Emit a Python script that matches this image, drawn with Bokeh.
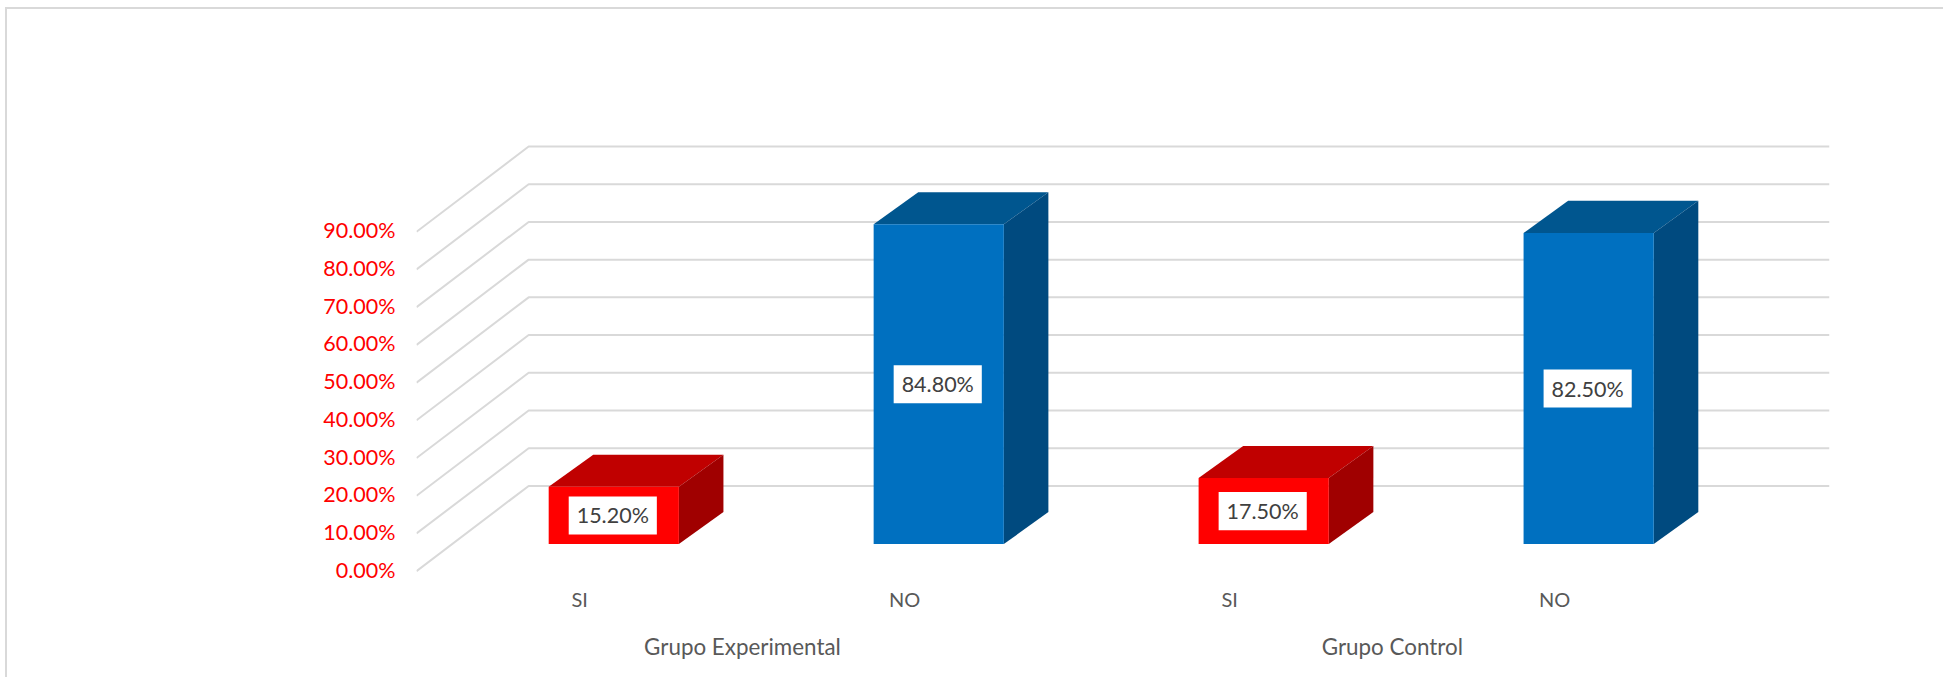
from bokeh.plotting import figure
from bokeh.models import FixedTicker, NumeralTickFormatter, LinearAxis, Range1d
from bokeh.core.properties import value
from bokeh.embed import file_html
from bokeh.resources import INLINE

# ---- data ----
categories = ["SI", "NO", "SI", "NO"]
groups = ["Grupo Experimental", "Grupo Control"]
values = [0.152, 0.848, 0.175, 0.825]
bar_colors = ["#FF0000", "#0070C0", "#FF0000", "#0070C0"]
top_colors = ["#C00000", "#00568F", "#C00000", "#00568F"]
side_colors = ["#A00000", "#004A7F", "#A00000", "#004A7F"]
y_ticks = [0.0, 0.1, 0.2, 0.3, 0.4, 0.5, 0.6, 0.7, 0.8, 0.9]

# ---- layout (pixels of the page) ----
OFF_X, OFF_Y = 7, 9       # the canvas starts inside the top and left border
W, H = 1943 - OFF_X, 677 - OFF_Y
SLOT = 324.5
UNIT = 376.0
F_L, F_R, F_T, F_B = 416 - OFF_X, 1827 - OFF_X, 0, H
ZERO_Y = 569.0 - OFF_Y
BAR0_CX = 613.0 - OFF_X
X0 = -(BAR0_CX - F_L) / SLOT
X1 = X0 + (F_R - F_L) / SLOT
Y1 = (ZERO_Y - F_T) / UNIT
Y0 = -(F_B - ZERO_Y) / UNIT

GRID_DX = 112 / SLOT      # depth of the floor, x
GRID_DY = 85 / UNIT       # depth of the floor, y
BAR_HALF = 65 / SLOT
BAR_DX = 44.5 / SLOT
BAR_DY = 32 / UNIT
BASE = 27 / UNIT          # front of the bars over the front of the floor
LABEL_RAISE = 1.5 / UNIT  # axis labels sit a little above their grid lines

GRID_COLOR = "#D9D9D9"

p = figure(width=W, height=H, x_range=(X0, X1), y_range=(Y0, Y1),
           output_backend="svg", toolbar_location=None,
           min_border_left=F_L, min_border_right=W - F_R,
           min_border_top=F_T, min_border_bottom=H - F_B,
           outline_line_color=None, background_fill_color="white",
           x_axis_location=None, y_axis_location=None)
p.styles = {"margin-left": "5px", "margin-top": "7px",
            "border-left": f"2px solid {GRID_COLOR}",
            "border-top": f"2px solid {GRID_COLOR}",
            "box-sizing": "content-box"}
p.grid.visible = False

p.extra_y_ranges = {"labels": Range1d(Y0 - LABEL_RAISE, Y1 - LABEL_RAISE)}
ax = LinearAxis(y_range_name="labels")
ax.ticker = FixedTicker(ticks=y_ticks)
ax.formatter = NumeralTickFormatter(format="0.00%")
ax.axis_line_color = None
ax.major_tick_line_color = None
ax.minor_tick_line_color = None
ax.major_label_text_color = "#FF0000"
ax.major_label_text_font = "Lato"
ax.major_label_text_font_size = "21.5px"
ax.major_label_standoff = 15
p.add_layout(ax, "left")

for t in y_ticks:
    p.line([X0, X0 + GRID_DX, X1], [t, t + GRID_DY, t + GRID_DY],
           line_color=GRID_COLOR, line_width=2)

for i, v in enumerate(values):
    l, r = i - BAR_HALF, i + BAR_HALF
    b, t = BASE, BASE + v
    p.patch([l, r, r + BAR_DX, l + BAR_DX], [t, t, t + BAR_DY, t + BAR_DY],
            fill_color=top_colors[i], line_color=None)
    p.patch([r, r + BAR_DX, r + BAR_DX, r], [b, b + BAR_DY, t + BAR_DY, t],
            fill_color=side_colors[i], line_color=None)
    p.quad(left=l, right=r, bottom=b, top=t, fill_color=bar_colors[i], line_color=None)
    ym = BASE + v / 2
    p.rect(x=i - 1 / SLOT, y=ym, width=88 / SLOT, height=38 / UNIT,
           fill_color="white", line_color=None)
    p.text(x=[i - 1 / SLOT], y=[ym], text=[f"{v * 100:.2f}%"],
           text_font=value("Lato"), text_font_size="21.5px", text_color="#404040",
           text_align="center", text_baseline="middle")

LABEL_Y = -28 / UNIT
GROUP_Y = -75 / UNIT
for i, c in enumerate(categories):
    p.text(x=[i - 34 / SLOT], y=[LABEL_Y], text=[c],
           text_font=value("Lato"), text_font_size="20px", text_color="#595959",
           text_align="center", text_baseline="middle")
for j, g in enumerate(groups):
    p.text(x=[2 * j + 0.396], y=[GROUP_Y], text=[g],
           text_font=value("Lato"), text_font_size="22.4px", text_color="#595959",
           text_align="center", text_baseline="middle")

open("out.html", "w").write(file_html(p, INLINE))
